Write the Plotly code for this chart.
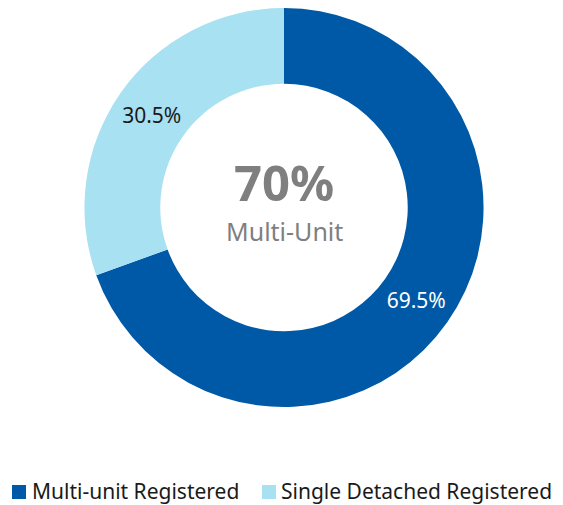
import plotly.graph_objects as go

labels = ["Multi-unit Registered", "Single Detached Registered"]
values = [69.5, 30.5]
text_labels = ["69.5%", "30.5%"]
colors = ["#0059A6", "#A8E1F1"]
text_colors = ["#FFFFFF", "#1A1A1A"]
center_value = "70%"
center_label = "Multi-Unit"

FONT = "Noto Sans, Open Sans, sans-serif"

# the page adds an 8px body margin, so the figure is 8px smaller than the window
W, H = 555, 497

fig = go.Figure(go.Pie(
    labels=labels,
    values=values,
    text=text_labels,
    textinfo="text",
    textposition="inside",
    insidetextorientation="horizontal",
    insidetextfont=dict(color=text_colors, size=21, family=FONT),
    hole=0.62,
    sort=False,
    direction="clockwise",
    rotation=0,
    marker=dict(colors=colors, line=dict(width=0)),
    domain=dict(x=[0.0, 0.9946], y=[0.197, 1.0]),
    hoverinfo="label+percent",
    showlegend=False,
))

fig.add_annotation(text="<b>" + center_value + "</b>", x=0.4973, y=0.6499, xref="paper", yref="paper",
                   showarrow=False, font=dict(size=49, color="#7F7F7F", family=FONT))
fig.add_annotation(text=center_label, x=0.4973, y=0.5507, xref="paper", yref="paper",
                   showarrow=False, font=dict(size=25, color="#7F7F7F", family=FONT))

# legend row drawn below the donut
legend_marker_x = [(4, 18), (254, 268)]
legend_text_x = [22, 271]
for (x0, x1), tx, name, col in zip(legend_marker_x, legend_text_x, labels, colors):
    fig.add_shape(type="rect", xref="paper", yref="paper",
                  x0=x0 / W, x1=x1 / W, y0=1 - 491 / H, y1=1 - 477 / H,
                  fillcolor=col, line=dict(width=0))
    fig.add_annotation(text=name, x=tx / W, y=1 - 483 / H, xref="paper", yref="paper",
                       xanchor="left", yanchor="middle", showarrow=False,
                       font=dict(size=21, color="#1A1A1A", family=FONT))

fig.update_layout(
    width=W, height=H,
    margin=dict(l=0, r=0, t=0, b=0),
    paper_bgcolor="white",
    plot_bgcolor="white",
    showlegend=False,
)

fig.write_html("out.html")
